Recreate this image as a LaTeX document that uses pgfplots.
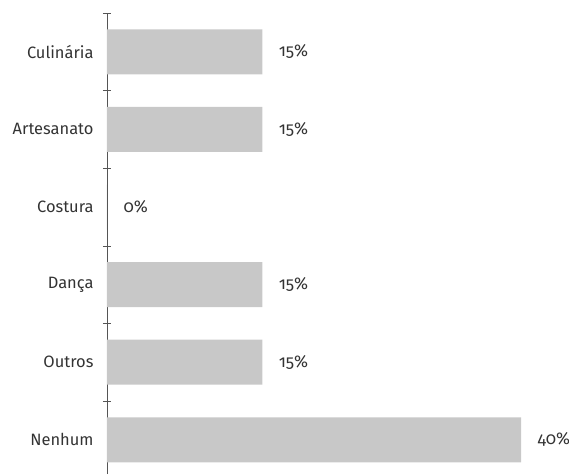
\documentclass[border=0pt]{standalone}
\usepackage{fontspec}
\setmainfont{Fira Sans}[Numbers=OldStyle]
\usepackage{pgfplots}
\pgfplotsset{compat=1.18}
\definecolor{barc}{HTML}{C8C8C8}
\definecolor{txt}{HTML}{333333}
\definecolor{axc}{HTML}{555555}
\begin{document}
\begin{tikzpicture}
\begin{axis}[
  at={(0,0)}, anchor=south west,
  scale only axis,
  width=414bp, height=461bp,
  xmin=0, xmax=40,
  ymin=-0.44, ymax=5.5,
  xbar, bar width=45bp,
  axis x line=none,
  axis y line*=left,
  y axis line style={axc, line width=0.6pt, -},
  ytick={0,1,2,3,4,5},
  yticklabels={Nenhum,Outros,Dança,Costura,Artesanato,Culinária},
  major tick length=0pt,
  minor ytick={0.5,1.5,2.5,3.5,4.5,5.5},
  minor tick length=8bp,
  tick align=center,
  minor tick style={axc, line width=0.6pt},
  yticklabel style={font=\fontsize{16.5}{19}\selectfont, text=txt, xshift=-10bp},
  nodes near coords={\pgfmathprintnumber[assume math mode=true]{\pgfplotspointmeta}\%},
  nodes near coords style={font=\fontsize{17}{19}\selectfont, text=txt, anchor=west, xshift=13bp},
  clip=false,
]
\addplot[fill=barc, draw=none] coordinates {
  (40,0) (15,1) (15,2) (0,3) (15,4) (15,5)
};
\end{axis}
\pgfresetboundingbox
\path[use as bounding box] (-107bp,-1bp) rectangle (462bp,474bp);
\end{tikzpicture}
\end{document}
